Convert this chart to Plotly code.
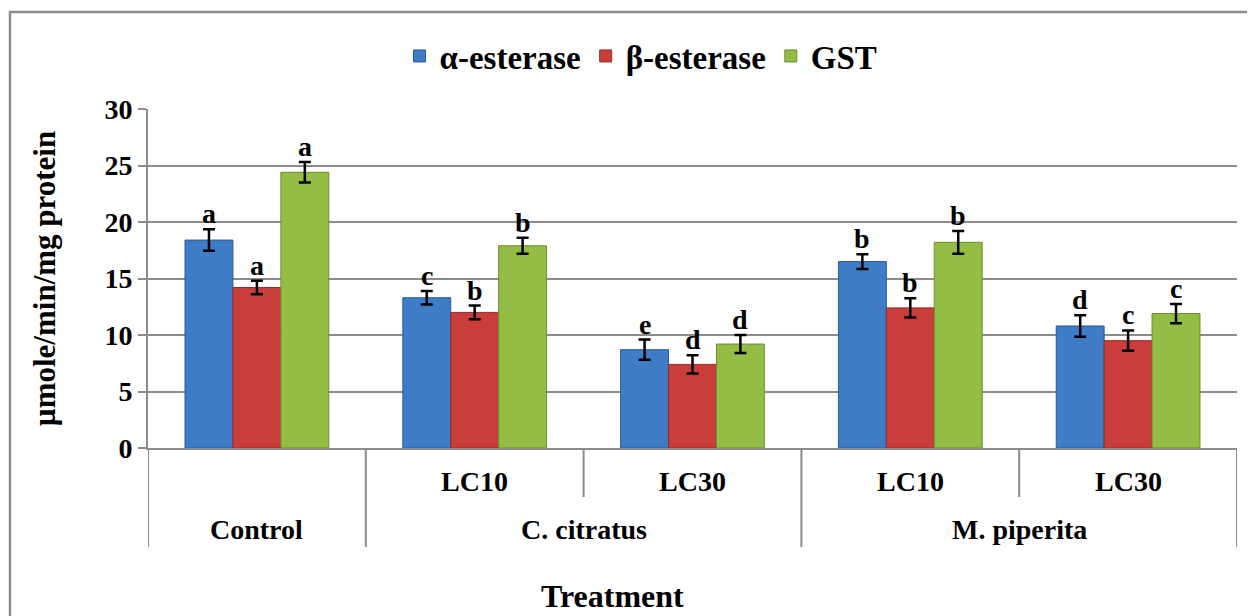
import plotly.graph_objects as go

positions = ["Control", "C. citratus LC10", "C. citratus LC30", "M. piperita LC10", "M. piperita LC30"]
sub_labels = ["", "LC10", "LC30", "LC10", "LC30"]
group_labels = ["Control", "C. citratus", "M. piperita"]
group_spans = [(0, 0), (1, 2), (3, 4)]

series_names = ["α-esterase", "β-esterase", "GST"]
alpha_vals = [18.4, 13.3, 8.7, 16.5, 10.8]
alpha_err = [0.95, 0.6, 0.9, 0.65, 0.95]
alpha_letters = ["a", "c", "e", "b", "d"]
beta_vals = [14.2, 12.0, 7.4, 12.4, 9.5]
beta_err = [0.6, 0.6, 0.8, 0.85, 0.9]
beta_letters = ["a", "b", "d", "b", "c"]
gst_vals = [24.4, 17.9, 9.2, 18.2, 11.9]
gst_err = [0.9, 0.7, 0.8, 1.0, 0.85]
gst_letters = ["a", "b", "d", "b", "c"]

colors = ["#3f7cc6", "#c93d3b", "#94bd46"]
edge_colors = ["#2a5a96", "#962a28", "#6c8c30"]

FONT = "Liberation Serif"
GRAY = "#8c8c8c"
BARGAP = 0.34

# figure is placed at an 8px body offset in the page
W, H = 1247, 608
L, R, T, B = 140, 18, 101, 168
PW, PH = W - L - R, H - T - B

xs = list(range(len(positions)))
vals = [alpha_vals, beta_vals, gst_vals]
errs = [alpha_err, beta_err, gst_err]
letters = [alpha_letters, beta_letters, gst_letters]

fig = go.Figure()
for k in range(3):
    fig.add_trace(go.Bar(
        x=xs, y=vals[k], name=series_names[k],
        marker=dict(color=colors[k], line=dict(color=edge_colors[k], width=1)),
        error_y=dict(type="data", array=errs[k], visible=True, color="black", thickness=2.5, width=6),
    ))

annotations = []
w = (1 - BARGAP) / 3
for k in range(3):
    for i in xs:
        annotations.append(dict(
            x=i + (k - 1) * w, y=vals[k][i] + errs[k][i], xref="x", yref="y",
            text=letters[k][i], showarrow=False, yanchor="bottom", yshift=-2,
            font=dict(family=FONT, size=28, color="black", weight="bold"),
        ))

def py(page_y):
    return (H - B + 8 - page_y) / PH

for i, s in enumerate(sub_labels):
    if s:
        annotations.append(dict(
            x=i, y=py(481), xref="x", yref="paper", text=s, showarrow=False,
            yanchor="middle", font=dict(family=FONT, size=28, color="black", weight="bold"),
        ))
for g, (a, b) in zip(group_labels, group_spans):
    annotations.append(dict(
        x=(a + b) / 2, y=py(529), xref="x", yref="paper", text=g, showarrow=False,
        yanchor="middle", font=dict(family=FONT, size=28, color="black", weight="bold"),
    ))
annotations.append(dict(
    x=(612 - 8 - L) / PW, y=py(596), xref="paper", yref="paper", text="Treatment", showarrow=False,
    yanchor="middle", font=dict(family=FONT, size=32, color="black", weight="bold"),
))

shapes = []
for xb in [-0.5, 0.5, 2.5, 4.5]:
    shapes.append(dict(type="line", xref="x", yref="paper", x0=xb, x1=xb, y0=0, y1=py(547),
                       line=dict(color=GRAY, width=2)))
for xb in [1.5, 3.5]:
    shapes.append(dict(type="line", xref="x", yref="paper", x0=xb, x1=xb, y0=0, y1=py(497),
                       line=dict(color=GRAY, width=2)))
shapes.append(dict(type="rect", xref="paper", yref="paper",
                   x0=(2 - L) / PW, x1=(W + 20 - L) / PW,
                   y0=py(640), y1=py(12),
                   line=dict(color=GRAY, width=2.5), fillcolor="rgba(0,0,0,0)", layer="below"))

fig.update_layout(
    width=W, height=H,
    margin=dict(l=L, r=R, t=T, b=B),
    paper_bgcolor="white", plot_bgcolor="white",
    barmode="group", bargap=BARGAP, bargroupgap=0,
    showlegend=True,
    legend=dict(orientation="h", x=(641 - 8 - L) / PW, xanchor="center", y=py(56), yanchor="middle",
                font=dict(family=FONT, size=33, color="black", weight="bold"),
                itemwidth=30, traceorder="normal", bgcolor="rgba(0,0,0,0)"),
    annotations=annotations, shapes=shapes,
    xaxis=dict(range=[-0.5, 4.5], showticklabels=False, showgrid=False, zeroline=False,
               showline=True, linecolor=GRAY, linewidth=2, ticks=""),
    yaxis=dict(range=[0, 30], dtick=5, showgrid=True, gridcolor=GRAY, gridwidth=2,
               zeroline=False, showline=True, linecolor=GRAY, linewidth=2,
               ticks="outside", ticklen=8, tickcolor=GRAY, tickwidth=2,
               tickfont=dict(family=FONT, size=28, color="black", weight="bold"),
               title=dict(text="µmole/min/mg protein", standoff=40,
                          font=dict(family=FONT, size=31, color="black", weight="bold"))),
)

fig.write_html("out.html")
